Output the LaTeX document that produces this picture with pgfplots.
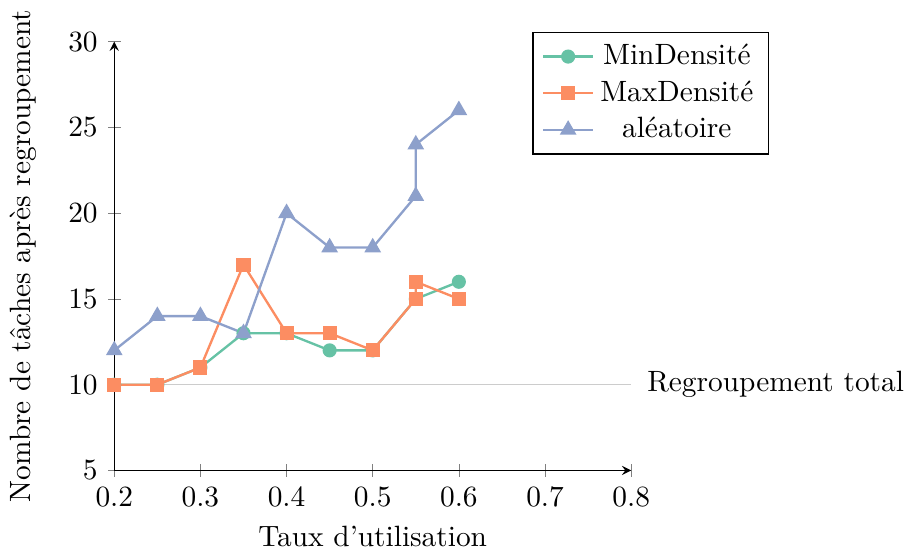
\documentclass[border=0pt]{standalone}
\usepackage{pgfplots}
\pgfplotsset{compat=1.18}
\definecolor{cA}{RGB}{102,194,165}
\definecolor{cB}{RGB}{252,141,98}
\definecolor{cC}{RGB}{141,160,203}
\begin{document}
\begin{tikzpicture}
\begin{axis}[
  scale only axis,
  width=176pt, height=146pt,
  axis lines=left,
  xmin=0.2, xmax=0.8, ymin=5, ymax=30,
  xtick={0.2,0.3,0.4,0.5,0.6,0.7,0.8},
  ytick={5,10,15,20,25,30},
  xticklabel style={/pgf/number format/fixed,/pgf/number format/precision=1},
  xlabel={Taux d’utilisation},
  ylabel={Nombre de tâches après regroupement},
  ylabel shift=4pt,
  legend cell align=center,
  legend style={at={(1.266,1.023)}, anchor=north east},
  clip=false,
]
\addplot[gray!40, forget plot] coordinates {(0.2,10) (0.8,10)} node[right, black, pos=1, inner sep=0pt, xshift=5.3pt] {Regroupement total};
\addplot[cA, thick, mark=*, mark options={solid}] coordinates {
(0.2,10) (0.25,10) (0.3,11) (0.35,13) (0.4,13) (0.45,12) (0.5,12) (0.55,15) (0.6,16)};
\addlegendentry{MinDensité}
\addplot[cB, thick, mark=square*] coordinates {
(0.2,10) (0.25,10) (0.3,11) (0.35,17) (0.4,13) (0.45,13) (0.5,12) (0.55,15) (0.55,16) (0.6,15)};
\addlegendentry{MaxDensité}
\addplot[cC, thick, mark=triangle*, mark size=2.5pt] coordinates {
(0.2,12) (0.25,14) (0.3,14) (0.35,13) (0.4,20) (0.45,18) (0.5,18) (0.55,21) (0.55,24) (0.6,26)};
\addlegendentry{aléatoire}
\end{axis}
\end{tikzpicture}
\end{document}
